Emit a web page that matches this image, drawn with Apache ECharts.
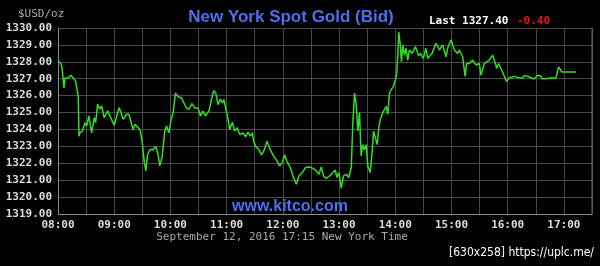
<!DOCTYPE html>
<html>
<head>
<meta charset="utf-8">
<script src="https://cdn.jsdelivr.net/npm/echarts@6/dist/echarts.min.js"></script>
<style>
html,body{margin:0;padding:0;background:#000;}
#c{width:600px;height:266px;}
</style>
</head>
<body>
<div id="c"></div>
<script>
// minutes after 08:00 (New York time)
var minutes = [0,3.2,4.6,6.4,7.5,9.3,11,13.5,16.3,18.9,20.6,21.6,22.4,23.4,25.9,28.8,30.6,33,35.9,38.7,40.2,42.3,44.8,46.6,49.3,53,55.4,60,65.3,69.6,73.2,75.7,80.2,82.1,87.4,89.8,92,93.8,95.6,98,101.6,104.4,106.9,108.7,111.2,114,115.8,118.3,120.4,122.9,125.4,128.2,130,131.8,133.5,137.2,139.6,143.1,146,149.5,152.1,154.8,157.4,161.2,163.8,166.2,168.4,170.8,173.4,175.5,177.2,179,181.5,183.3,186.2,188.6,191.1,194,197.5,200.4,202.8,205.4,207.5,208.9,211,214.5,217.1,219.5,223.1,225.9,229.4,233.1,236.6,239.5,241.9,244.4,248,250.8,254.4,257.2,260.8,264.3,268.6,272.1,275.7,278.5,281,283.5,286.3,289.9,293.4,296,297.7,299.8,302.3,304.8,307.7,310.4,313,314.7,316.5,318.3,320,321.8,323.6,325.4,327.2,329,330.7,333.2,335.4,336.8,338.9,340.7,342.4,344.2,346.7,348.5,350.3,352,353.8,355.6,358.1,360.2,361.6,362.7,363.7,365.2,366.6,368,369.8,371.6,373.3,375.1,378,381.5,385,387,390,392.7,394.6,396.4,399.3,403.6,407.1,410.6,414.2,415.9,419.6,423.1,426.6,428.4,430.2,431.9,434.5,436.2,439.1,442.6,446.2,447.9,449.7,451.5,453.2,455,456.8,460.3,463.9,467.5,468.2,470.3,474.5,478.8,481.7,487,492.4,495.9,497.7,503,508.3,511.9,515.5,516.6,520.8,526.1,531.5,534.3,535,537.9,552.8];
var prices = [1328.06,1327.9,1327.5,1326.45,1327.04,1327.14,1327.04,1327.2,1327.04,1326.84,1326.74,1325.96,1323.6,1323.8,1323.9,1324.4,1324.2,1324.8,1323.8,1324.7,1324.4,1325.5,1325.2,1325.4,1324.7,1325.1,1324.8,1324.25,1325.3,1324.6,1324.9,1324.9,1324.0,1324.3,1324.0,1323.3,1322.1,1321.55,1322.5,1322.8,1322.8,1323.0,1322.5,1321.85,1322.4,1323.9,1324.2,1323.8,1324.5,1325.0,1326.15,1325.95,1326.0,1325.86,1325.66,1325.27,1325.18,1325.53,1325.27,1325.27,1324.8,1325.08,1324.8,1325.1,1325.76,1326.3,1326.15,1325.47,1325.8,1325.57,1325.76,1325.27,1324.6,1324.0,1324.43,1323.9,1324.1,1323.7,1323.8,1323.57,1323.84,1323.6,1323.8,1323.3,1323.0,1322.8,1322.5,1322.7,1323.3,1322.9,1322.5,1322.2,1321.84,1322.04,1322.5,1322.1,1321.75,1321.25,1320.76,1321.25,1321.45,1321.75,1321.78,1321.7,1321.55,1321.35,1321.78,1321.25,1321.1,1321.25,1321.45,1321.6,1321.16,1321.45,1320.53,1321.25,1321.35,1321.16,1321.75,1324.3,1326.15,1325.47,1323.9,1325.0,1322.43,1323.1,1322.8,1323.1,1321.84,1321.45,1322.7,1323.9,1324.0,1323.1,1324.1,1324.6,1325.0,1324.9,1325.37,1324.9,1326.15,1326.35,1326.55,1326.94,1327.3,1328.4,1329.78,1329.1,1328.0,1329.0,1328.4,1328.8,1328.1,1328.7,1328.5,1328.9,1328.35,1328.5,1328.2,1328.8,1328.2,1328.2,1328.5,1329.1,1328.7,1329.0,1328.3,1328.8,1329.3,1328.7,1328.5,1328.7,1328.7,1328.3,1327.14,1327.9,1327.9,1328.1,1327.8,1327.8,1327.9,1327.2,1327.2,1327.9,1327.8,1328.1,1328.4,1327.8,1327.6,1327.9,1327.4,1326.84,1327.04,1327.14,1327.04,1327.04,1327.2,1327.1,1326.98,1327.2,1327.16,1327.0,1327.0,1327.04,1327.04,1327.7,1327.7,1327.4,1327.4];
var hourLabels = ['08:00','09:00','10:00','11:00','12:00','13:00','14:00','15:00','16:00','17:00'];
var lastPrice = '1327.40';
var change = '-0.40';

var data = minutes.map(function(m,i){return [m, prices[i]];});
var mono = '"DejaVu Sans Mono", monospace';
var chart = echarts.init(document.getElementById('c'));
chart.setOption({
  backgroundColor: '#000',
  animation: false,
  grid: {left: 58, right: 8, top: 28, bottom: 52},
  xAxis: {
    type: 'value', min: 0, max: 570, interval: 30,
    axisLine: {show: true, lineStyle: {color: '#8a8a8a', width: 1}},
    axisTick: {show: false},
    splitLine: {show: true, lineStyle: {color: '#4a4a4a', width: 1}},
    axisLabel: {
      color: '#dddddd', fontFamily: mono, fontSize: 11, fontWeight: 'bold', margin: 6,
      showMaxLabel: false,
      formatter: function(v){ return (v % 60 === 0) ? (hourLabels[v/60] || '') : ''; }
    }
  },
  yAxis: {
    type: 'value', min: 1319, max: 1330, interval: 1,
    axisLine: {show: true, lineStyle: {color: '#8a8a8a', width: 1}},
    axisTick: {show: false},
    splitLine: {show: true, lineStyle: {color: '#4a4a4a', width: 1}},
    axisLabel: {
      color: '#dddddd', fontFamily: mono, fontSize: 11, fontWeight: 'bold', margin: 6,
      formatter: function(v){ return v.toFixed(2); }
    }
  },
  series: [{
    type: 'line', data: data, showSymbol: false, smooth: false,
    lineStyle: {color: '#33dd22', width: 1.5},
    z: 5
  }],
  graphic: [
    {type: 'line', shape: {x1: 592, y1: 28, x2: 592, y2: 214}, style: {stroke: '#6a6a6a', lineWidth: 1}, z: 1},
    {type: 'text', left: 18, top: 9, style: {text: '$USD/oz', fill: '#aaaaaa', font: '11px ' + mono}},
    {type: 'text', x: 291, y: 17, style: {text: 'New York Spot Gold (Bid)', fill: '#4f6ff0', font: 'bold 17px "Liberation Sans", Arial, sans-serif', textAlign: 'center', textVerticalAlign: 'middle'}},
    {type: 'text', x: 429, y: 21, style: {text: 'Last ' + lastPrice, fill: '#ffffff', font: 'bold 11px ' + mono, textVerticalAlign: 'middle'}},
    {type: 'text', x: 517, y: 21, style: {text: change, fill: '#ee1111', font: 'bold 11px ' + mono, textVerticalAlign: 'middle'}},
    {type: 'text', x: 290, y: 207, style: {text: 'www.kitco.com', fill: '#4f6ff0', font: 'bold 16px "Liberation Sans", Arial, sans-serif', textAlign: 'center', textVerticalAlign: 'middle'}, z: 10},
    {type: 'text', x: 282, y: 237, style: {text: 'September 12, 2016 17:15 New York Time', fill: '#aaaaaa', font: '11px ' + mono, textAlign: 'center', textVerticalAlign: 'middle'}},
    {type: 'text', x: 594, y: 253, style: {text: '[630x258] https://uplc.me/', fill: '#ffffff', font: '12px "DejaVu Sans Condensed", "DejaVu Sans", sans-serif', textAlign: 'right', textVerticalAlign: 'middle'}}
  ]
});
</script>
</body>
</html>
